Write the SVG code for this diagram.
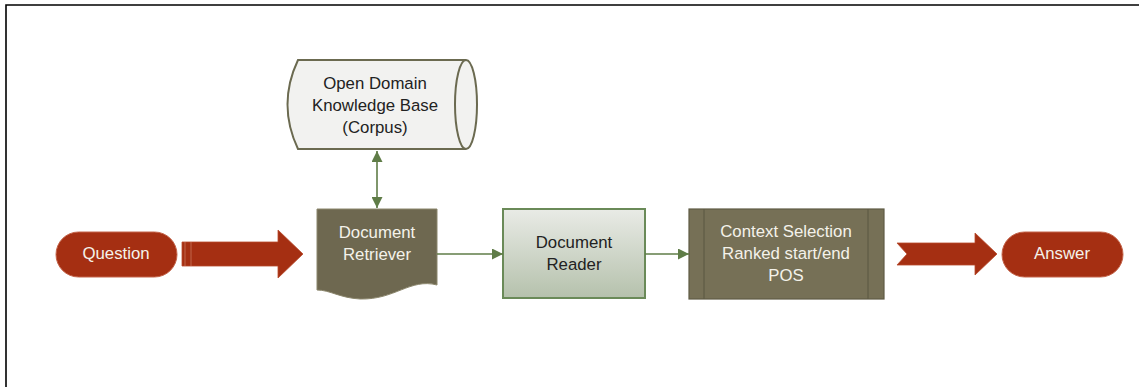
<svg xmlns="http://www.w3.org/2000/svg" width="1139" height="387" viewBox="0 0 1139 387">
  <style>
    .t { font-family: "Liberation Sans", Arial, sans-serif; font-size: 16.8px; text-anchor: middle; }
    .dark { fill: #222222; }
    .light { fill: #f4f2ea; }
    .conn { stroke: #5f7c47; stroke-width: 1.6; fill: none; }
    .red { fill: #a52f12; }
  </style>
  <defs>
    <marker id="ah2" viewBox="0 0 10 10" refX="10" refY="5" markerWidth="12" markerHeight="11" markerUnits="userSpaceOnUse" orient="auto-start-reverse">
      <path d="M0,0 L10,5 L0,10 z" fill="#5f7c47"/>
    </marker>
    <linearGradient id="rg" x1="0" y1="0" x2="0" y2="1">
      <stop offset="0" stop-color="#e9ebe6"/>
      <stop offset="1" stop-color="#b5c1ac"/>
    </linearGradient>
  </defs>

  <rect width="1139" height="387" fill="#ffffff"/>
  <path d="M6,387 V5 H1139" fill="none" stroke="#000" stroke-width="1.6"/>

  <g id="corpus">
    <path d="M298,60 H466 A11,44.5 0 0 1 466,149 H298 Q277,104.5 298,60 Z" fill="#f2f2f0" stroke="#6b6a50" stroke-width="2"/>
    <path d="M466,60 A11,44.5 0 0 0 466,149" fill="none" stroke="#6b6a50" stroke-width="2"/>
    <text class="t dark" x="375" y="89">Open Domain</text>
    <text class="t dark" x="375" y="111">Knowledge Base</text>
    <text class="t dark" x="375" y="133">(Corpus)</text>
  </g>

  <g id="question">
    <rect x="56" y="232" width="121" height="45" rx="22.5" class="red" stroke="#c4644a" stroke-width="1"/>
    <text class="t light" x="116" y="259">Question</text>
  </g>

  <g id="question-arrow">
    <path d="M182,242 H278 V230 L303,254 L278,278 V266 H182 Z" class="red" stroke="#b84a2c" stroke-width="0.8"/>
    <line x1="185" y1="242" x2="185" y2="266" stroke="#c8745a" stroke-width="0.8"/>
    <line x1="191" y1="242" x2="191" y2="266" stroke="#c8745a" stroke-width="0.8"/>
  </g>

  <g id="retriever">
    <path d="M317,209 H437 V285 C410,278 395,300 360,299 C340,298 330,290 317,290 Z" fill="#6e6850" stroke="#8b866c" stroke-width="1"/>
    <text class="t light" x="377" y="238">Document</text>
    <text class="t light" x="377" y="260">Retriever</text>
  </g>

  <g id="reader">
    <rect x="503" y="209" width="142" height="89" fill="url(#rg)" stroke="#6a8a58" stroke-width="2"/>
    <text class="t dark" x="574" y="248">Document</text>
    <text class="t dark" x="574" y="270">Reader</text>
  </g>

  <g id="context">
    <rect x="689" y="209" width="195" height="90" fill="#767056" stroke="#5f5b45" stroke-width="1.2"/>
    <line x1="704" y1="209" x2="704" y2="299" stroke="#5f5b45" stroke-width="1.2"/>
    <line x1="868" y1="209" x2="868" y2="299" stroke="#5f5b45" stroke-width="1.2"/>
    <text class="t light" x="786" y="237">Context Selection</text>
    <text class="t light" x="786" y="259">Ranked start/end</text>
    <text class="t light" x="786" y="281">POS</text>
  </g>

  <g id="answer-arrow">
    <path d="M897,243 H975 V233 L997,254 L975,275 V265 H897 L907,254 Z" class="red" stroke="#b84a2c" stroke-width="0.8"/>
  </g>

  <g id="answer">
    <rect x="1002" y="232" width="121" height="45" rx="22.5" class="red" stroke="#c4644a" stroke-width="1"/>
    <text class="t light" x="1062" y="259">Answer</text>
  </g>

  <g id="connectors">
    <line class="conn" x1="377" y1="151" x2="377" y2="208" marker-start="url(#ah2)" marker-end="url(#ah2)"/>
    <line class="conn" x1="437" y1="254" x2="503" y2="254" marker-end="url(#ah2)"/>
    <line class="conn" x1="645" y1="254" x2="689" y2="254" marker-end="url(#ah2)"/>
  </g>
</svg>
